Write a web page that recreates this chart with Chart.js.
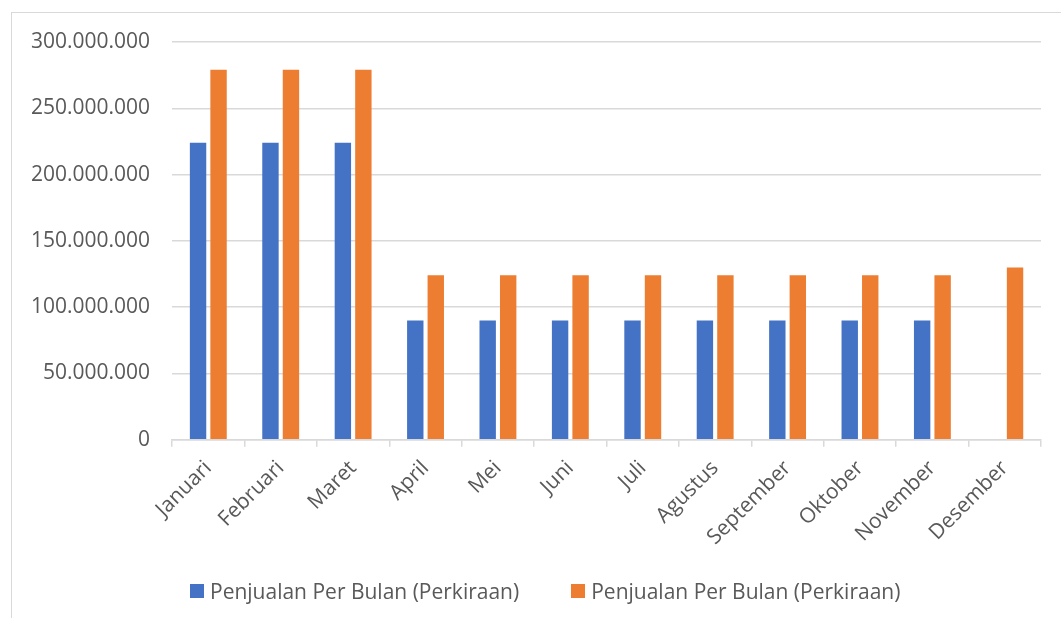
<!DOCTYPE html>
<html>
<head>
<meta charset="utf-8">
<script src="https://cdn.jsdelivr.net/npm/chart.js@4"></script>
<style>
  body { margin: 0; background: #fff; }
  #wrap { position: relative; width: 1061px; height: 618px; overflow: hidden; }
  #frame { position: absolute; left: 11px; top: 12px; width: 1100px; height: 700px;
           border-left: 1px solid #d9d9d9; border-top: 1px solid #d9d9d9; }
  #legend { position: absolute; left: 190px; top: 578px; display: flex; gap: 52px;
            font-family: "Open Sans", sans-serif; font-size: 21px; color: #595959; }
  .item { display: flex; align-items: center; white-space: nowrap; height: 26px; }
  .box { width: 14px; height: 14px; margin-right: 6px; flex: none; }
</style>
</head>
<body>
<div id="wrap">
  <div id="frame"></div>
  <canvas id="myChart" width="1061" height="618"></canvas>
  <div id="legend"></div>
</div>
<script>
// Chart data
const months = ['Januari', 'Februari', 'Maret', 'April', 'Mei', 'Juni', 'Juli',
                'Agustus', 'September', 'Oktober', 'November', 'Desember'];
const seriesNames = ['Penjualan Per Bulan (Perkiraan)', 'Penjualan Per Bulan (Perkiraan)'];
const salesBlue = [224000000, 224000000, 224000000, 90000000, 90000000, 90000000,
                   90000000, 90000000, 90000000, 90000000, 90000000, null];
const salesOrange = [279000000, 279000000, 279000000, 124000000, 124000000, 124000000,
                     124000000, 124000000, 124000000, 124000000, 124000000, 130000000];
const yMin = 0;
const yMax = 300000000;
const yStep = 50000000;

const colors = ['#4472C4', '#ED7D31'];

function formatNum(v) {
    return v.toString().replace(/\B(?=(\d{3})+(?!\d))/g, '.');
}

const canvas = document.getElementById('myChart');

const chart = new Chart(canvas, {
    type: 'bar',
    data: {
        labels: months,
        datasets: [
            { label: seriesNames[0], data: salesBlue, backgroundColor: colors[0], borderWidth: 0 },
            { label: seriesNames[1], data: salesOrange, backgroundColor: colors[1], borderWidth: 0 }
        ]
    },
    options: {
        responsive: false,
        animation: false,
        layout: { padding: { left: 9, right: 20, top: 42, bottom: 59 } },
        datasets: {
            bar: { categoryPercentage: 0.566, barPercentage: 0.8 }
        },
        plugins: {
            legend: { display: false },
            tooltip: { enabled: false }
        },
        scales: {
            x: {
                grid: { drawOnChartArea: false, drawTicks: true, tickLength: 7, color: '#d9d9d9', lineWidth: 1.5 },
                border: { color: '#d9d9d9', width: 1.5 },
                ticks: {
                    minRotation: 45, maxRotation: 45, padding: 9,
                    color: '#595959',
                    font: { family: 'Open Sans', size: 21 }
                }
            },
            y: {
                min: yMin,
                max: yMax,
                grid: { color: '#d9d9d9', drawTicks: false, lineWidth: 1.5 },
                border: { display: false },
                ticks: {
                    stepSize: yStep,
                    padding: 22,
                    color: '#595959',
                    font: { family: 'Open Sans', size: 21 },
                    callback: v => formatNum(v)
                }
            }
        }
    }
});

// HTML legend built from the datasets
const legend = document.getElementById('legend');
chart.data.datasets.forEach(ds => {
    const item = document.createElement('div');
    item.className = 'item';
    const box = document.createElement('span');
    box.className = 'box';
    box.style.background = ds.backgroundColor;
    const txt = document.createElement('span');
    txt.textContent = ds.label;
    item.appendChild(box);
    item.appendChild(txt);
    legend.appendChild(item);
});
</script>
</body>
</html>
